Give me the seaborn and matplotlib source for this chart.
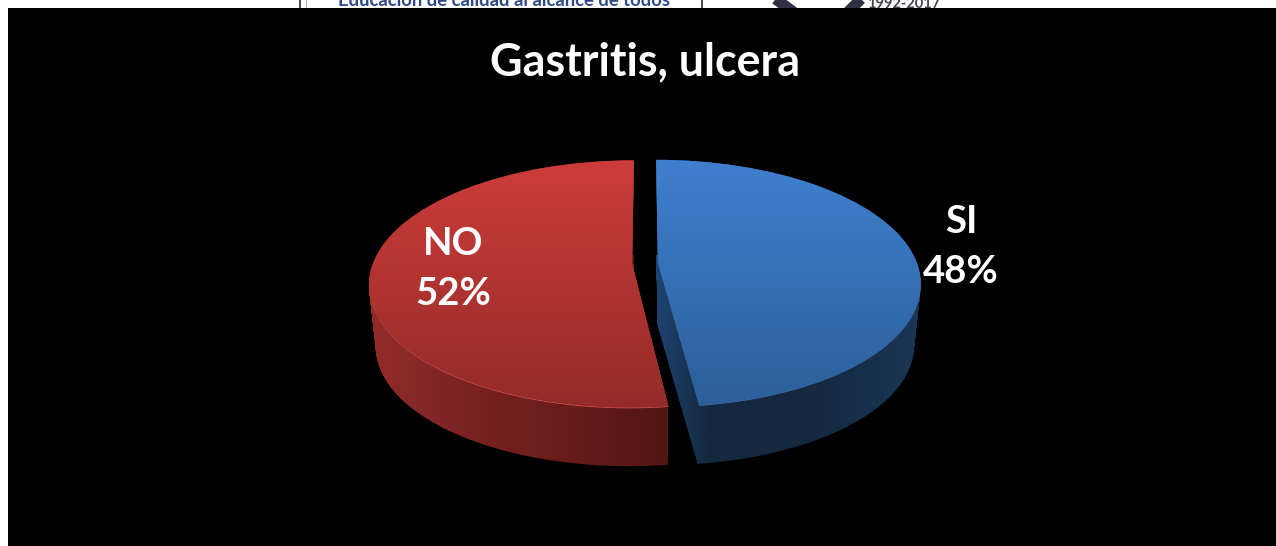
import numpy as np
import matplotlib
matplotlib.use('Agg')
import matplotlib.pyplot as plt
import matplotlib.patches as ptc
from matplotlib.path import Path
from matplotlib.transforms import Transform
import seaborn as sns

titulo = 'Gastritis, ulcera'
categorias = ['SI', 'NO']
valores = [48, 52]
encabezado = 'Educación de calidad al alcance de todos'
anios = '1992-2017'

# colores de arriba hacia abajo (cara) y de izquierda a derecha (lado)
cara_colores = [['#3f80cf', '#2c5e9a'], ['#cd3d3a', '#932b28']]
lado_colores = [['#1f4371', '#14293f', '#14283f', '#15293f', '#17304c', '#1b3655'],
                ['#942c28', '#84272a', '#752120', '#6c1e1c', '#5f1a19', '#511513']]
borde_colores = ['#3c6ca6', '#d4514c']

# perspectiva del disco
CX, CY = 645, 263
A, B, K = 259, 120, 0.166
PROF, ENCOGE = 63, 0.025


class Perspectiva(Transform):
    input_dims = 2
    output_dims = 2

    def __init__(self, t=0.0):
        super().__init__()
        self.t = t

    def transform_non_affine(self, values):
        xy = np.asarray(values, dtype=float)
        w = 1 + K * xy[:, 1] + ENCOGE * self.t
        return np.column_stack((CX + A * xy[:, 0] / w,
                                CY - B * xy[:, 1] / w + PROF * self.t))


sns.set_theme(style='white', rc={'figure.facecolor': 'white'})
plt.rcParams['font.family'] = ['Lato', 'DejaVu Sans']

fig = plt.figure(figsize=(12.76, 5.46), dpi=100)
ax = fig.add_axes([0, 0, 1, 1])

wedges, _ = ax.pie(valores, startangle=90, counterclock=False, explode=[0.05, 0.05])

ax.set_aspect('auto')
ax.set_axis_off()

# resto de la diapositiva de arriba, tapado por el fondo negro
ax.text(504, 6, encabezado, fontsize=13.2, fontweight='bold', color='#2f4a86', ha='center', va='baseline', zorder=0)
ax.text(904, 8, anios, fontsize=10.5, fontweight='bold', color='#44464f', ha='center', va='baseline', zorder=0)
ax.plot([300, 300], [0, 8], color='#2a2a2a', lw=1.2, zorder=0)
ax.plot([306, 306], [0, 8], color='#b0b0b0', lw=0.8, zorder=0)
ax.plot([702, 702], [0, 8], color='#2a2a2a', lw=1.2, zorder=0)
ax.plot([771.5, 793.5], [-4, 12], color='#2f3040', lw=8, zorder=0, solid_capstyle='butt')
ax.plot([864, 848], [-4, 12], color='#2f3040', lw=8, zorder=0, solid_capstyle='butt')
ax.add_patch(ptc.Rectangle((8, 8), 1268, 538, facecolor='black', edgecolor='none', zorder=1))

extents_lado = [(656, 920, 480, 255), (368, 668, 480, 255)]
for i, w in enumerate(wedges):
    base = w.get_path()
    # lado: el disco barrido hacia abajo
    capas = [Perspectiva(t).transform_path(base) for t in np.linspace(0.02, 1, 50)]
    barrido = Path.make_compound_path(*capas)
    cmap = sns.blend_palette(lado_colores[i], as_cmap=True)
    im = ax.imshow(np.linspace(0, 1, 256)[None, :], cmap=cmap, aspect='auto',
                   extent=extents_lado[i], zorder=2 + i * 0.1)
    im.set_clip_path(barrido, transform=ax.transData)

    # brillo fino en el borde frontal
    ax.add_patch(ptc.PathPatch(Perspectiva(0.015).transform_path(base), facecolor=borde_colores[i],
                               edgecolor='none', transform=ax.transData, zorder=3))

    # cara superior
    w.set_transform(Perspectiva(0.0) + ax.transData)
    w.set_facecolor(cara_colores[i][1])
    w.set_edgecolor('none')
    w.set_zorder(4)
    cmap = sns.blend_palette(cara_colores[i], as_cmap=True)
    im = ax.imshow(np.linspace(0, 1, 256)[:, None], cmap=cmap, aspect='auto',
                   extent=(340, 940, 410, 158), zorder=5)
    im.set_clip_path(Perspectiva(0.0).transform_path(base), transform=ax.transData)

ax.set_xlim(0, 1276)
ax.set_ylim(546, 0)

ax.text(645, 62, titulo, color='white', fontsize=32.3, fontweight='bold', ha='center', va='center', zorder=6)
pos_etiquetas = [(961, 247), (453, 269)]
for pos, cat, val in zip(pos_etiquetas, categorias, valores):
    ax.text(pos[0], pos[1], f'{cat}\n{val}%', color='white', fontsize=27.5, fontweight='bold',
            ha='center', va='center', linespacing=1.6, zorder=6)

fig.savefig('out.png', dpi=100)
